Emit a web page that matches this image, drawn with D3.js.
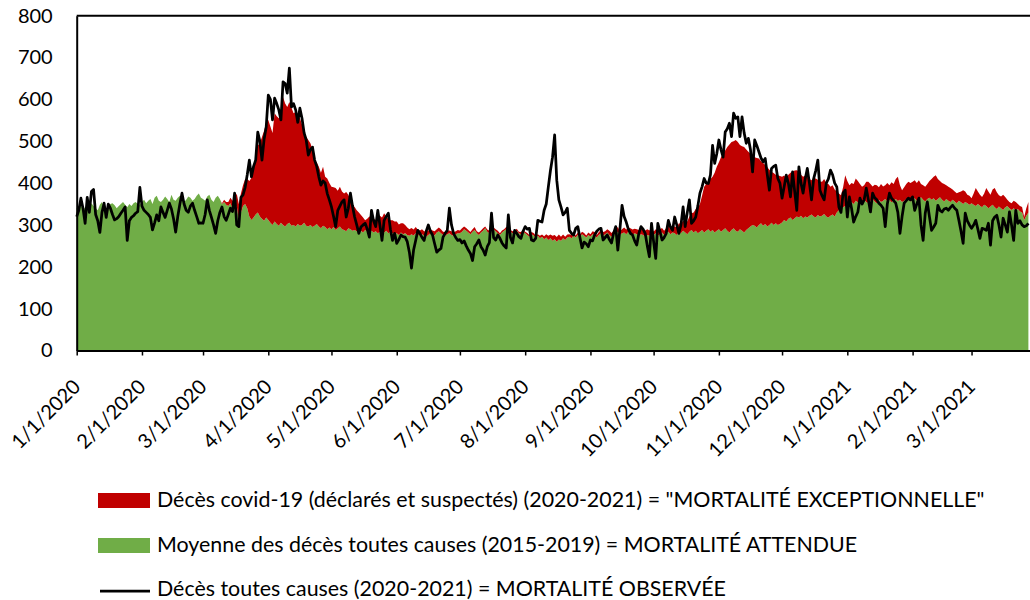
<!DOCTYPE html>
<html>
<head>
<meta charset="utf-8">
<script src="https://cdn.jsdelivr.net/npm/d3@7"></script>
<style>
    body { margin: 0; background: #fff; }
    #graphDiv { width: 1030px; height: 600px; }
    text { font-family: Lato, "Open Sans", sans-serif; fill: #000; }
</style>
</head>
<body>
<div id="graphDiv"></div>
<script>
// first day of the daily series
var startDay = "1/1/2020";

var monthTicks = ["1/1/2020", "2/1/2020", "3/1/2020", "4/1/2020", "5/1/2020", "6/1/2020", "7/1/2020",
    "8/1/2020", "9/1/2020", "10/1/2020", "11/1/2020", "12/1/2020", "1/1/2021", "2/1/2021", "3/1/2021"];

var yTicks = [0, 100, 200, 300, 400, 500, 600, 700, 800];

// Moyenne des décès toutes causes (2015-2019), one value per day, one row per month
var expected = [
    340,345,350,335,342,348,338,352,345,340,335,348,355,342,338,345,350,352,347,340,345,350,355,348,342,350,345,352,355,350,348,
    355,360,352,358,362,350,365,370,358,355,360,368,362,355,372,360,358,365,370,362,355,360,368,365,358,362,370,375,365,
    362,358,368,372,360,355,365,370,362,350,355,348,345,352,340,338,345,312,330,345,350,340,320,312,318,325,330,320,315,310,318,
    312,305,300,308,302,298,305,300,296,302,305,298,300,296,302,298,300,305,298,296,300,295,298,302,296,292,298,295,290,294,
    290,295,288,292,296,290,288,285,292,290,286,288,285,290,286,282,288,284,280,286,282,285,280,283,278,282,286,280,284,280,278,
    280,276,282,278,280,276,274,278,275,280,277,274,278,275,272,276,280,278,275,282,285,280,276,274,278,280,276,274,278,280,
    280,284,290,286,282,278,284,288,280,276,282,286,292,284,280,288,290,285,280,276,282,286,290,288,284,280,282,286,280,278,284,
    280,276,272,278,275,270,274,268,272,266,270,264,268,262,266,260,265,262,268,264,270,272,268,274,270,276,272,278,274,270,276,
    272,278,275,270,276,280,274,278,282,276,272,278,280,284,276,280,282,278,284,280,276,280,278,274,278,276,272,276,274,278,
    276,280,274,278,282,276,280,284,278,282,280,276,284,280,286,282,278,284,288,282,286,280,284,288,282,286,290,284,288,282,286,
    290,284,288,292,286,282,288,292,286,284,290,286,282,288,292,296,300,298,294,300,304,298,302,296,300,305,300,304,300,302,
    306,312,308,315,318,312,316,320,318,322,316,320,318,322,325,320,318,324,320,322,326,320,318,322,325,320,330,335,338,342,345,
    348,352,355,350,358,354,350,356,360,355,352,358,362,356,352,360,355,358,362,356,360,354,358,362,357,360,355,358,362,360,356,
    360,364,358,362,366,360,356,362,365,360,364,358,362,366,360,356,362,358,355,360,356,352,358,354,350,355,352,348,
    352,348,345,350,346,342,348,345,340,344,348,342,338,344,340,336,342,345,340,336,340,335,338,332,330,312,322,330
];

// Décès covid-19 (déclarés et suspectés), stacked on top of the expected deaths
var covid = [
    0,0,0,0,0,0,0,0,0,0,0,0,0,0,0,0,0,0,0,0,0,0,0,0,0,0,0,0,0,0,0,
    0,0,0,0,0,0,0,0,0,0,0,0,0,0,0,0,0,0,0,0,0,0,0,0,0,0,0,0,0,
    0,0,0,0,0,0,0,0,0,2,5,7,10,13,18,24,30,38,45,50,60,70,85,100,120,140,160,175,195,215,227,
    239,230,220,259,258,257,253,306,294,280,289,282,267,274,260,257,240,217,212,207,195,185,157,148,143,133,141,120,121,106,
    101,95,100,90,95,90,87,94,80,70,64,55,50,40,38,36,23,31,40,33,33,27,39,39,40,46,34,35,27,31,30,
    28,25,22,26,20,18,16,15,14,15,12,13,12,10,12,11,10,9,10,8,9,10,8,9,8,7,9,8,7,8,
    7,8,6,7,6,5,6,7,5,6,5,6,4,5,6,5,4,5,6,4,5,4,5,6,4,5,4,5,4,5,4,
    4,5,4,5,6,5,4,6,5,7,8,10,9,12,10,11,12,10,9,8,7,6,8,6,5,6,5,6,7,5,6,
    6,7,8,6,7,8,9,7,8,10,9,8,10,11,9,10,12,11,10,12,13,11,12,14,13,12,15,14,13,15,
    8,10,9,12,11,10,13,14,12,15,16,18,20,22,24,28,30,36,40,48,52,60,66,82,109,112,117,126,127,143,153,
    160,178,182,186,200,210,210,208,217,214,201,202,204,192,183,174,167,164,166,159,148,150,141,142,132,122,124,116,119,115,
    109,106,104,105,107,115,114,111,110,98,99,98,97,88,82,92,93,84,84,81,84,80,80,69,70,65,50,40,33,48,74,
    57,43,45,48,53,51,48,35,35,48,51,40,30,40,43,30,43,34,33,44,35,48,40,48,58,35,28,32,36,43,44,
    43,43,42,45,32,35,35,36,40,50,51,61,48,39,40,42,33,33,33,25,24,24,20,26,33,25,20,22,
    12,27,43,30,26,25,27,43,40,28,37,46,40,27,28,36,25,15,15,16,18,20,12,13,13,7,18,25
];

// Décès toutes causes (2020-2021)
var observed = [
    320,335,364,340,304,366,330,380,385,325,310,282,330,352,318,350,340,325,312,315,320,328,335,343,263,310,318,322,328,332,390,
    345,335,330,325,318,288,305,324,310,343,330,318,335,352,338,315,283,320,350,376,350,335,330,345,352,335,320,304,305,
    304,325,360,335,318,300,280,310,330,343,320,311,325,340,332,376,300,296,366,372,390,420,455,415,440,455,522,500,455,505,534,
    610,600,551,603,590,575,551,642,638,615,675,582,590,575,545,579,555,520,503,467,480,486,455,440,415,395,405,400,375,360,
    343,320,296,335,345,355,360,319,340,376,345,319,300,280,295,300,304,290,271,335,310,296,335,300,263,311,320,328,290,263,280,
    256,265,276,272,271,260,235,197,240,263,287,280,270,263,285,300,285,276,255,235,240,244,271,280,287,340,300,280,270,263,
    265,257,262,250,240,232,215,248,255,264,248,240,228,248,258,328,270,264,276,268,257,250,245,324,270,257,287,280,272,268,285,
    296,290,292,264,262,268,311,309,307,335,350,391,430,462,515,407,360,343,324,330,340,287,280,276,292,296,270,245,259,255,248,
    264,262,276,285,290,292,264,270,276,265,257,280,296,240,290,347,320,307,290,280,276,262,252,280,296,290,280,250,224,304,
    260,220,304,285,264,270,280,311,295,287,319,300,280,300,343,296,330,360,304,310,319,345,376,391,411,400,399,420,490,447,470,
    503,480,462,522,530,543,511,567,555,558,511,558,520,495,507,480,427,503,490,475,460,451,459,420,383,435,440,443,411,400,
    364,391,419,400,367,427,380,335,439,400,376,410,435,400,360,410,430,455,383,370,360,400,410,431,420,400,391,343,330,376,383,
    319,367,340,307,320,331,364,350,360,388,360,331,376,365,360,352,347,340,296,350,376,364,358,352,330,280,320,352,358,364,360,
    367,335,350,364,300,263,328,355,320,287,295,304,347,335,331,338,340,335,342,347,340,335,311,285,256,328,310,300,
    292,300,311,290,268,292,290,287,304,252,310,319,323,300,271,316,300,283,331,300,263,335,304,310,300,296,298,304
];

var legendLabels = [
    'Décès covid-19 (déclarés et suspectés) (2020-2021) = "MORTALITÉ EXCEPTIONNELLE"',
    'Moyenne des décès toutes causes (2015-2019) = MORTALITÉ ATTENDUE',
    'Décès toutes causes (2020-2021) = MORTALITÉ OBSERVÉE'
];

var colors = { covid: "#c00000", expected: "#70ad47", observed: "#000000" };

function parseDay(s) {
    var p = s.split("/");
    return new Date(Date.UTC(+p[2], +p[0] - 1, +p[1]));
}

var w = 1030, h = 600;
var start = parseDay(startDay);

var rows = expected.map(function (e, i) {
    return { date: d3.utcDay.offset(start, i), exp: e, cov: covid[i], obs: observed[i] };
});

var xScale = d3.scaleUtc()
    .domain([start, d3.utcDay.offset(start, 453)])
    .range([76.7, 1030.5]);
var yScale = d3.scaleLinear()
    .domain([0, 800])
    .range([350.5, 15.7]);

var svg = d3.select("#graphDiv").append("svg")
    .attr("width", w)
    .attr("height", h);

var graph = svg.append("g");

// green = expected deaths
graph.append("path")
    .datum(rows)
    .attr("fill", colors.expected)
    .attr("d", d3.area()
        .x(function (d) { return xScale(d.date); })
        .y0(yScale(0))
        .y1(function (d) { return yScale(d.exp); }));

// red = covid deaths stacked on the green
graph.append("path")
    .datum(rows)
    .attr("fill", colors.covid)
    .attr("d", d3.area()
        .x(function (d) { return xScale(d.date); })
        .y0(function (d) { return yScale(d.exp); })
        .y1(function (d) { return yScale(d.exp + d.cov); }));

// black = observed deaths
graph.append("path")
    .datum(rows)
    .attr("fill", "none")
    .attr("stroke", colors.observed)
    .attr("stroke-width", 2.75)
    .attr("stroke-linejoin", "round")
    .attr("d", d3.line()
        .x(function (d) { return xScale(d.date); })
        .y(function (d) { return yScale(d.obs); }));

// frame top
graph.append("line")
    .attr("x1", 76.7).attr("x2", w)
    .attr("y1", yScale(800)).attr("y2", yScale(800))
    .attr("stroke", "#000").attr("stroke-width", 2);

// y axis, labels only
var yAxis = d3.axisLeft(yScale).tickValues(yTicks).tickSize(0).tickPadding(24).tickSizeOuter(0);
var gy = graph.append("g")
    .attr("transform", "translate(76.7,0)")
    .call(yAxis);
gy.select(".domain").attr("stroke", "#000").attr("stroke-width", 2);
gy.selectAll("text").attr("font-size", 20).attr("font-family", "Lato, sans-serif");

// x axis, month ticks
var tickDates = monthTicks.map(parseDay);
var xAxis = d3.axisBottom(xScale).tickValues(tickDates).tickSize(5).tickSizeOuter(0).tickFormat("");
var gx = graph.append("g")
    .attr("transform", "translate(0," + yScale(0) + ")")
    .call(xAxis);
gx.select(".domain").attr("stroke", "#000").attr("stroke-width", 2);
gx.selectAll(".tick line").attr("stroke", "#000").attr("stroke-width", 1.5);

graph.selectAll("text.xlab")
    .data(monthTicks)
    .enter().append("text")
    .attr("class", "xlab")
    .attr("text-anchor", "end")
    .attr("font-size", 20)
    .attr("transform", function (d) {
        return "translate(" + (xScale(parseDay(d)) + 5) + ",388) rotate(-45)";
    })
    .text(function (d) { return d; });

// legend
var legend = svg.append("g");
var legendY = [500, 545, 589];

legend.append("rect")
    .attr("x", 98).attr("y", 493).attr("width", 52).attr("height", 15)
    .attr("fill", colors.covid);
legend.append("rect")
    .attr("x", 98).attr("y", 538).attr("width", 52).attr("height", 15)
    .attr("fill", colors.expected);
legend.append("line")
    .attr("x1", 100).attr("x2", 150)
    .attr("y1", 591).attr("y2", 591)
    .attr("stroke", colors.observed).attr("stroke-width", 2.75);

legend.selectAll("text")
    .data(legendLabels)
    .enter().append("text")
    .attr("x", 157)
    .attr("y", function (d, i) { return legendY[i]; })
    .attr("dy", "0.35em")
    .attr("font-size", 21.4)
    .text(function (d) { return d; });
</script>
</body>
</html>
